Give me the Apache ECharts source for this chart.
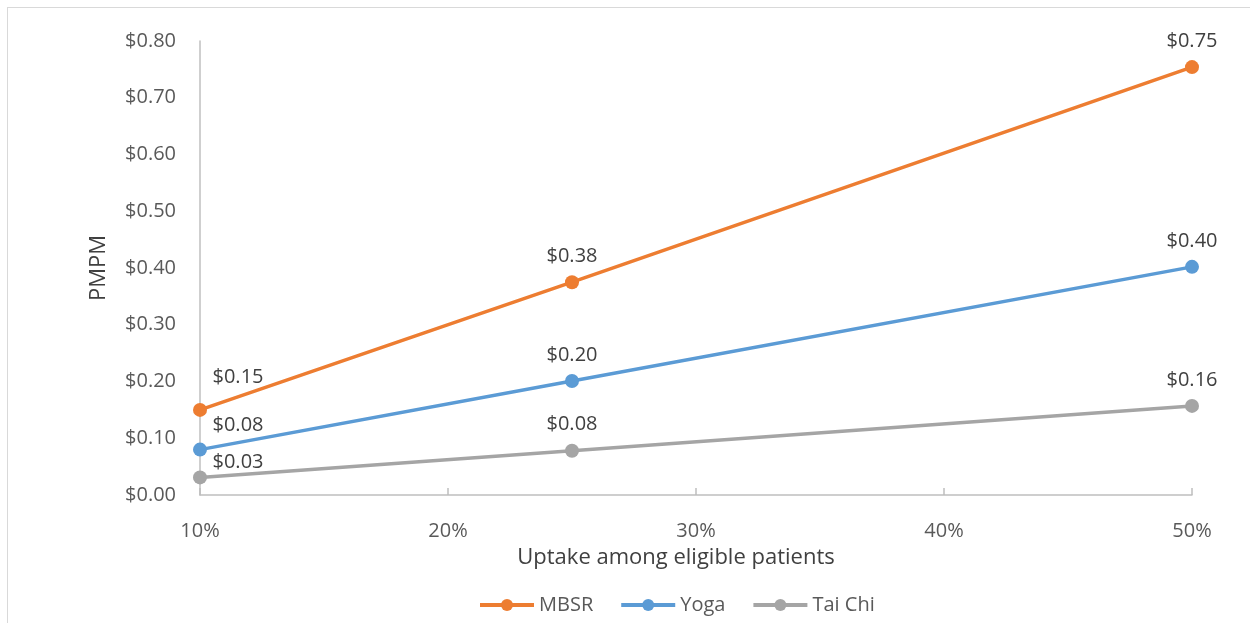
<!DOCTYPE html>
<html>
<head>
<meta charset="utf-8">
<script src="https://cdn.jsdelivr.net/npm/echarts@6/dist/echarts.min.js"></script>
<style>
  html, body { margin: 0; padding: 0; background: #fff; }
  #frame { position: absolute; left: 7px; top: 7px; width: 1300px; height: 700px; border: 1px solid #d9d9d9; }
  #main { position: absolute; left: 0; top: 0; width: 1250px; height: 623px; }
</style>
</head>
<body>
<div id="frame"></div>
<div id="main"></div>
<script>
// uptake levels (%)
var uptake = [10, 25, 50];
var mbsr = [0.15, 0.375, 0.754];
var yoga = [0.08, 0.201, 0.402];
var taiChi = [0.031, 0.078, 0.157];
// label offsets for the first point of each line (px)
var firstOffset = { MBSR: [38, -7], Yoga: [38, 2], "Tai Chi": [38, 11] };

var font = "'Open Sans', 'Noto Sans', sans-serif";

function money(v) {
  return "$" + v.toFixed(2);
}

function makeSeries(name, vals, color) {
  return {
    name: name,
    type: "line",
    data: vals.map(function (v, i) {
      var d = { value: [uptake[i], v] };
      if (i === 0) {
        d.label = { offset: firstOffset[name] };
      }
      return d;
    }),
    symbol: "circle",
    symbolSize: 14,
    lineStyle: { color: color, width: 3.5 },
    itemStyle: { color: color },
    label: {
      show: true,
      position: "top",
      distance: 9,
      color: "#404040",
      fontFamily: font,
      fontSize: 20,
      formatter: function (p) { return money(p.value[1]); }
    },
    emphasis: { disabled: true }
  };
}

var chart = echarts.init(document.getElementById("main"));
var option = {
  animation: false,
  grid: { left: 200, right: 58, top: 41, bottom: 128 },
  xAxis: {
    type: "value",
    min: 10,
    max: 50,
    interval: 10,
    name: "Uptake among eligible patients",
    nameLocation: "middle",
    nameGap: 52,
    nameTextStyle: { color: "#404040", fontFamily: font, fontSize: 22, padding: [0, 40, 0, 0] },
    axisLine: { lineStyle: { color: "#bfbfbf", width: 1.5 } },
    axisTick: { show: true, inside: true, length: 7, lineStyle: { color: "#bfbfbf", width: 1.5 } },
    axisLabel: { color: "#595959", fontFamily: font, fontSize: 20, margin: 26, formatter: "{value}%" },
    splitLine: { show: false }
  },
  yAxis: {
    type: "value",
    min: 0,
    max: 0.8,
    interval: 0.1,
    name: "PMPM",
    nameLocation: "middle",
    nameGap: 90,
    nameMoveOverlap: false,
    nameRotate: 90,
    nameTextStyle: { color: "#404040", fontFamily: font, fontSize: 22 },
    axisLine: { show: true, lineStyle: { color: "#bfbfbf", width: 1.5 } },
    axisTick: { show: false },
    axisLabel: { color: "#595959", fontFamily: font, fontSize: 20, margin: 24, formatter: function (v) { return money(v); } },
    splitLine: { show: false }
  },
  legend: {
    bottom: 3,
    left: 473,
    itemWidth: 54,
    itemHeight: 15,
    itemGap: 26,
    lineStyle: { width: 4 },
    textStyle: { color: "#595959", fontFamily: font, fontSize: 20 },
    data: ["MBSR", "Yoga", "Tai Chi"]
  },
  series: [
    makeSeries("MBSR", mbsr, "#ed7d31"),
    makeSeries("Yoga", yoga, "#5b9bd5"),
    makeSeries("Tai Chi", taiChi, "#a5a5a5")
  ]
};
chart.setOption(option);
</script>
</body>
</html>
